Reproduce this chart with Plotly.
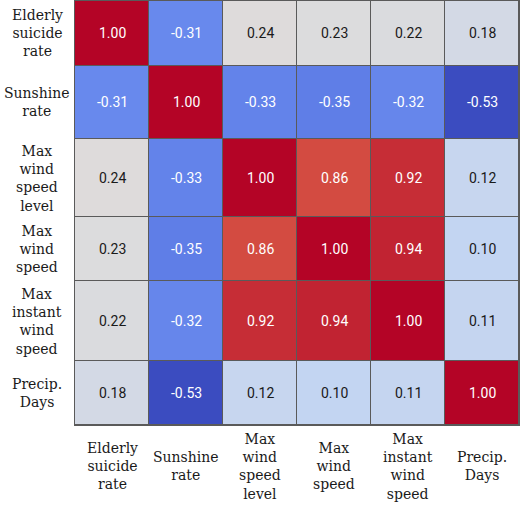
import plotly.graph_objects as go
import numpy as np

# ---- data ----
labels = ["Elderly<br>suicide<br>rate", "Sunshine<br>rate", "Max<br>wind<br>speed<br>level",
          "Max<br>wind<br>speed", "Max<br>instant<br>wind<br>speed", "Precip.<br>Days"]
corr = [
    [1.00, -0.31, 0.24, 0.23, 0.22, 0.18],
    [-0.31, 1.00, -0.33, -0.35, -0.32, -0.53],
    [0.24, -0.33, 1.00, 0.86, 0.92, 0.12],
    [0.23, -0.35, 0.86, 1.00, 0.94, 0.10],
    [0.22, -0.32, 0.92, 0.94, 1.00, 0.11],
    [0.18, -0.53, 0.12, 0.10, 0.11, 1.00],
]

# ---- layout sizes (row heights in px, as in the reference) ----
row_h = [65, 73, 79, 64, 80, 64]
y_edges = np.concatenate([[0], np.cumsum(row_h)])
y_cent = (y_edges[:-1] + y_edges[1:]) / 2
n = len(labels)
x_edges = np.arange(n + 1)
x_cent = x_edges[:-1] + 0.5

coolwarm = [
    [0.0, "#3b4cc0"], [0.1, "#5977e3"], [0.2, "#7b9ff9"], [0.3, "#9ebeff"],
    [0.4, "#c0d4f5"], [0.5, "#dddcdc"], [0.6, "#f2cbb7"], [0.7, "#f7ac8e"],
    [0.8, "#ee8468"], [0.9, "#d65244"], [1.0, "#b40426"],
]
z = np.array(corr)
zmin, zmax = z.min(), z.max()

fig = go.Figure(go.Heatmap(
    z=z, x=x_edges, y=y_edges, colorscale=coolwarm, zmin=zmin, zmax=zmax,
    showscale=False, xgap=1, ygap=1, hoverinfo="skip",
))

ann = []
for i in range(n):
    for j in range(n):
        v = corr[i][j]
        col = "white" if (v < 0 or v > 0.5) else "#1a1a1a"
        ann.append(dict(x=x_cent[j], y=y_cent[i], xref="x", yref="y", text=f"{v:.2f}",
                        showarrow=False, font=dict(family="Roboto", size=14, color=col)))
for i, lab in enumerate(labels):
    ann.append(dict(x=0, xref="paper", y=y_cent[i], yref="y", text=lab, showarrow=False,
                    xanchor="center", yanchor="middle", xshift=-38, align="center",
                    font=dict(family="DejaVu Serif", size=14, color="#1a1a1a")))
    ann.append(dict(x=x_cent[i], xref="x", y=0, yref="paper", text=lab, showarrow=False,
                    xanchor="center", yanchor="middle", yshift=-41, align="center",
                    font=dict(family="DejaVu Serif", size=14, color="#1a1a1a")))

fig.update_layout(
    width=520, height=508, autosize=False, margin=dict(l=75, r=1, t=0, b=83),
    paper_bgcolor="white", plot_bgcolor="#5a5a5a",
    annotations=ann,
    xaxis=dict(range=[0, n], showticklabels=False, ticks="", showgrid=False, zeroline=False,
               showline=True, linecolor="#5a5a5a", linewidth=1, mirror=True),
    yaxis=dict(range=[y_edges[-1], 0], showticklabels=False, ticks="", showgrid=False,
               zeroline=False, showline=True, linecolor="#5a5a5a", linewidth=1, mirror=True),
)
fig.write_html(
    "out.html",
    config={"responsive": False, "displayModeBar": False},
    post_script="document.body.style.margin='0';document.body.style.overflow='hidden';"
                "Plotly.relayout('{plot_id}', {width:520, height:508});",
)
